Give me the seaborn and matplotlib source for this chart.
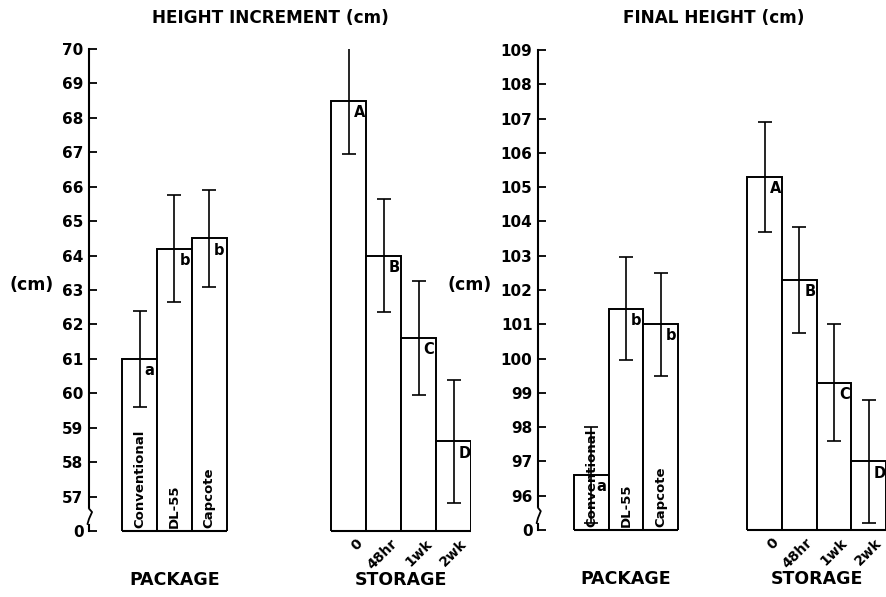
import numpy as np
import pandas as pd
import matplotlib
matplotlib.use("Agg")
import matplotlib.pyplot as plt
import seaborn as sns

# ---------------- data ----------------
package_labels = ["Conventional", "DL-55", "Capcote"]
storage_labels = ["0", "48hr", "1wk", "2wk"]

inc_package = [61.0, 64.2, 64.5]
inc_package_err = [1.4, 1.55, 1.4]
inc_storage = [68.5, 64.0, 61.6, 58.6]
inc_storage_err = [1.55, 1.65, 1.65, 1.8]

fin_package = [96.6, 101.45, 101.0]
fin_package_err = [1.4, 1.5, 1.5]
fin_storage = [105.3, 102.3, 99.3, 97.0]
fin_storage_err = [1.6, 1.55, 1.7, 1.8]

package_letters = ["a", "b", "b"]
storage_letters_inc = ["A", "B", "C", "D"]
storage_letters_fin = ["A", "B", "C", "D"]

inc_ticks = list(range(57, 71))
fin_ticks = list(range(96, 110))

# ---------------- style ----------------
sns.set_theme(style="ticks")
plt.rcParams["font.family"] = ["DejaVu Sans"]
plt.rcParams["font.weight"] = "bold"
for k in ["text.color", "axes.labelcolor", "xtick.color", "ytick.color",
          "axes.edgecolor"]:
    plt.rcParams[k] = "black"

fig = plt.figure(figsize=(8.86, 5.97), dpi=100)
W, H = 886, 597


def panel(rect, pkg_vals, pkg_err, st_vals, st_err, st_letters, gap, ticks,
          xlim, title, title_x):
    ax = fig.add_axes(rect)
    base = ticks[0] - 1
    pkg_pos = list(range(len(pkg_vals)))
    st_pos = [len(pkg_vals) + gap + i for i in range(len(st_vals))]
    df = pd.DataFrame({
        "pos": pkg_pos + st_pos,
        "val": list(pkg_vals) + list(st_vals),
    })
    sns.barplot(data=df, x="pos", y="val", native_scale=True, width=1.0,
                color="white", edgecolor="black", linewidth=1.4,
                errorbar=None, ax=ax)
    for p in ax.patches:
        p.set_facecolor("white")
    errs = list(pkg_err) + list(st_err)
    ax.errorbar(df["pos"], df["val"], yerr=errs, fmt="none", ecolor="black",
                elinewidth=1.2, capsize=4.8, capthick=1.2, zorder=5)
    # baselines under bars
    ax.hlines(base, pkg_pos[0] - 0.5, pkg_pos[-1] + 0.5, color="black",
              lw=1.5, clip_on=False, zorder=6)
    ax.hlines(base, st_pos[0] - 0.5, st_pos[-1] + 0.5, color="black",
              lw=1.5, clip_on=False, zorder=6)

    ax.set_xlim(*xlim)
    ax.set_ylim(base, ticks[-1])
    ax.set_yticks([base] + ticks)
    ax.set_yticklabels(["0"] + [str(t) for t in ticks], fontsize=11,
                       fontweight="bold")
    ax.tick_params(axis="y", direction="in", length=6, width=1.3, pad=4,
                   colors="black")
    ax.set_xticks([])
    ax.set_xlabel("")
    ax.set_ylabel("")
    for s in ["top", "right", "bottom"]:
        ax.spines[s].set_visible(False)
    ax.spines["left"].set_linewidth(1.5)
    ax.spines["left"].set_color("black")

    # letters
    letters = package_letters + st_letters
    for x, v, l in zip(df["pos"], df["val"], letters):
        ax.annotate(l, (x, v), xytext=(3.5, -3), textcoords="offset points",
                    ha="left", va="top", fontsize=10.5, fontweight="bold",
                    zorder=7)
    # package labels inside bars
    for x, l in zip(pkg_pos, package_labels):
        ax.annotate(l, (x, base), xytext=(0, 2), textcoords="offset points",
                    ha="center", va="bottom", rotation=90, fontsize=9.5,
                    fontweight="bold", annotation_clip=False, zorder=7)
    # storage labels below
    for x, l in zip(st_pos, storage_labels):
        ax.annotate(l, (x + 0.18, base), xytext=(0, -4),
                    textcoords="offset points", ha="right", va="top",
                    rotation=45, rotation_mode="anchor", fontsize=10,
                    fontweight="bold", annotation_clip=False)
    # group labels
    for grp, xs in (("PACKAGE", pkg_pos), ("STORAGE", st_pos)):
        cx = (xs[0] + xs[-1]) / 2
        ax.annotate(grp, (cx, base), xytext=(0, -29),
                    textcoords="offset points", ha="center", va="top",
                    fontsize=12.5, fontweight="bold", annotation_clip=False)
    # axis break squiggle
    yt = ax.get_yaxis_transform()
    ax.plot([0, 0], [base + 0.25, base + 0.6], color="white", lw=3,
            transform=yt, clip_on=False, zorder=8)
    ax.plot([-0.004, 0.0, 0.008, 0.0, 0.0],
            [base + 0.2, base + 0.35, base + 0.55, base + 0.65, base + 0.7],
            color="black", lw=1.3, transform=yt, clip_on=False, zorder=9)
    fig.text(title_x / W, 1 - 18 / H, title, ha="center", va="center",
             fontsize=12.2, fontweight="bold")
    return ax


ax1 = panel([89 / W, (H - 531) / H, (471 - 89) / W, (531 - 49) / H],
            inc_package, inc_package_err, inc_storage, inc_storage_err,
            storage_letters_inc, 3, inc_ticks, (-1.45, 9.5),
            "HEIGHT INCREMENT (cm)", 270)
ax2 = panel([538 / W, (H - 530) / H, (886 - 538) / W, (530 - 50) / H],
            fin_package, fin_package_err, fin_storage, fin_storage_err,
            storage_letters_fin, 2, fin_ticks, (-1.54, 8.5),
            "FINAL HEIGHT (cm)", 714)

fig.text(32 / W, 1 - 285 / H, "(cm)", ha="center", va="center", fontsize=12.5,
         fontweight="bold")
fig.text(470 / W, 1 - 285 / H, "(cm)", ha="center", va="center", fontsize=12.5,
         fontweight="bold")

fig.savefig("out.png", dpi=100, facecolor="white")
